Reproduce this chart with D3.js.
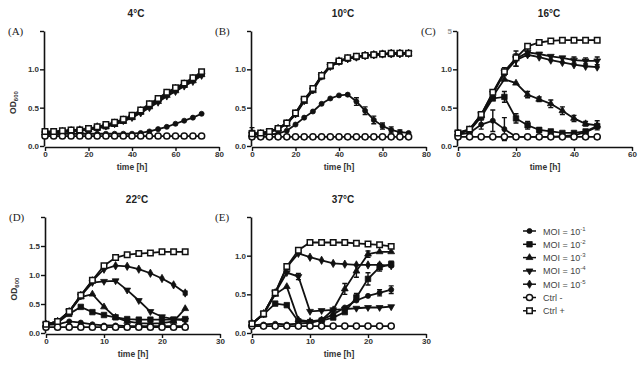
<!DOCTYPE html>
<html>
<head>
<meta charset="utf-8">
<script src="https://cdn.jsdelivr.net/npm/d3@7"></script>
<style>
  body { margin: 0; background: #fff; }
  svg { display: block; }
</style>
</head>
<body>
<svg width="640" height="371"></svg>
<script>
// series order: MOI 10^-1 .. 10^-5, Ctrl -, Ctrl +
const seriesNames = ["1", "2", "3", "4", "5", "Ctrl -", "Ctrl +"];
const seriesSymbols = ["circle", "square", "triangle", "triangleDown", "diamond", "circleOpen", "squareOpen"];

const times4 = [0, 4, 8, 12, 16, 20, 24, 28, 32, 36, 40, 44, 48, 52, 56, 60, 64, 68, 72];
const times16 = [0, 4, 8, 12, 16, 20, 24, 28, 32, 36, 40, 44, 48];
const times2 = [0, 2, 4, 6, 8, 10, 12, 14, 16, 18, 20, 22, 24];

const od4C = [
    [0.15, 0.15, 0.16, 0.16, 0.16, 0.16, 0.16, 0.16, 0.16, 0.16, 0.16, 0.17, 0.19, 0.22, 0.25, 0.29, 0.33, 0.37, 0.42],
    [0.18, 0.18, 0.19, 0.20, 0.21, 0.22, 0.24, 0.26, 0.29, 0.33, 0.38, 0.45, 0.53, 0.60, 0.68, 0.74, 0.80, 0.87, 0.95],
    [0.17, 0.17, 0.18, 0.19, 0.20, 0.21, 0.23, 0.25, 0.28, 0.32, 0.37, 0.44, 0.51, 0.58, 0.66, 0.72, 0.79, 0.85, 0.93],
    [0.16, 0.17, 0.18, 0.19, 0.20, 0.22, 0.24, 0.26, 0.29, 0.33, 0.37, 0.43, 0.50, 0.57, 0.65, 0.71, 0.78, 0.84, 0.92],
    [0.17, 0.18, 0.19, 0.20, 0.21, 0.22, 0.25, 0.27, 0.30, 0.34, 0.39, 0.46, 0.54, 0.61, 0.69, 0.75, 0.81, 0.88, 0.94],
    [0.13, 0.13, 0.13, 0.13, 0.13, 0.13, 0.13, 0.13, 0.13, 0.13, 0.13, 0.13, 0.13, 0.13, 0.13, 0.13, 0.13, 0.13, 0.13],
    [0.19, 0.19, 0.20, 0.21, 0.21, 0.23, 0.25, 0.28, 0.31, 0.35, 0.40, 0.47, 0.55, 0.62, 0.70, 0.76, 0.82, 0.89, 0.97]
];
const od10C = [
    [0.15, 0.15, 0.15, 0.16, 0.20, 0.28, 0.37, 0.45, 0.55, 0.62, 0.66, 0.67, 0.58, 0.46, 0.34, 0.26, 0.21, 0.18, 0.17],
    [0.17, 0.16, 0.19, 0.23, 0.30, 0.43, 0.60, 0.74, 0.91, 1.04, 1.10, 1.14, 1.16, 1.18, 1.19, 1.20, 1.20, 1.21, 1.21],
    [0.15, 0.16, 0.18, 0.22, 0.29, 0.41, 0.58, 0.72, 0.90, 1.03, 1.10, 1.14, 1.16, 1.18, 1.19, 1.20, 1.20, 1.20, 1.20],
    [0.15, 0.16, 0.19, 0.22, 0.30, 0.42, 0.59, 0.73, 0.91, 1.04, 1.10, 1.14, 1.16, 1.18, 1.19, 1.20, 1.20, 1.20, 1.21],
    [0.16, 0.16, 0.18, 0.23, 0.29, 0.42, 0.60, 0.74, 0.92, 1.04, 1.11, 1.14, 1.16, 1.18, 1.19, 1.20, 1.21, 1.21, 1.21],
    [0.12, 0.12, 0.12, 0.12, 0.12, 0.12, 0.12, 0.12, 0.12, 0.12, 0.12, 0.12, 0.12, 0.12, 0.12, 0.12, 0.12, 0.12, 0.12],
    [0.16, 0.17, 0.19, 0.23, 0.30, 0.43, 0.61, 0.75, 0.92, 1.05, 1.11, 1.15, 1.17, 1.18, 1.19, 1.20, 1.21, 1.21, 1.21]
];
const od16C = [
    [0.15, 0.17, 0.28, 0.33, 0.22, 0.12, 0.12, 0.12, 0.12, 0.13, 0.14, 0.18, 0.25],
    [0.17, 0.20, 0.38, 0.62, 0.64, 0.36, 0.27, 0.21, 0.19, 0.17, 0.17, 0.19, 0.26],
    [0.17, 0.21, 0.40, 0.65, 0.87, 0.82, 0.67, 0.61, 0.55, 0.46, 0.36, 0.29, 0.27],
    [0.17, 0.21, 0.41, 0.69, 0.96, 1.14, 1.22, 1.20, 1.17, 1.15, 1.12, 1.11, 1.11],
    [0.16, 0.21, 0.40, 0.68, 0.95, 1.12, 1.19, 1.16, 1.12, 1.09, 1.06, 1.04, 1.03],
    [0.12, 0.12, 0.12, 0.12, 0.12, 0.12, 0.12, 0.12, 0.12, 0.12, 0.12, 0.12, 0.12],
    [0.17, 0.22, 0.41, 0.70, 0.97, 1.15, 1.30, 1.35, 1.37, 1.38, 1.38, 1.38, 1.38]
];
const od22C = [
    [0.14, 0.15, 0.20, 0.18, 0.15, 0.13, 0.13, 0.12, 0.12, 0.12, 0.12, 0.12, 0.12],
    [0.15, 0.18, 0.33, 0.45, 0.36, 0.31, 0.27, 0.24, 0.23, 0.23, 0.23, 0.23, 0.24],
    [0.15, 0.18, 0.36, 0.62, 0.67, 0.45, 0.27, 0.20, 0.17, 0.16, 0.17, 0.20, 0.42],
    [0.15, 0.20, 0.37, 0.64, 0.87, 0.89, 0.90, 0.74, 0.56, 0.37, 0.28, 0.24, 0.22],
    [0.15, 0.20, 0.37, 0.65, 0.90, 1.10, 1.16, 1.15, 1.10, 1.03, 0.94, 0.83, 0.69],
    [0.10, 0.10, 0.10, 0.10, 0.10, 0.10, 0.10, 0.10, 0.10, 0.10, 0.10, 0.10, 0.10],
    [0.15, 0.20, 0.37, 0.65, 0.91, 1.16, 1.30, 1.35, 1.37, 1.38, 1.40, 1.40, 1.40]
];
const od37C = [
    [0.10, 0.11, 0.12, 0.11, 0.12, 0.13, 0.17, 0.24, 0.33, 0.42, 0.48, 0.52, 0.56],
    [0.12, 0.24, 0.38, 0.36, 0.15, 0.14, 0.16, 0.20, 0.27, 0.46, 0.70, 0.85, 0.89],
    [0.12, 0.24, 0.50, 0.60, 0.17, 0.15, 0.17, 0.30, 0.57, 0.80, 1.02, 1.05, 1.05],
    [0.12, 0.25, 0.52, 0.78, 0.73, 0.28, 0.29, 0.30, 0.31, 0.32, 0.33, 0.33, 0.34],
    [0.12, 0.25, 0.52, 0.85, 1.03, 0.98, 0.94, 0.90, 0.89, 0.88, 0.88, 0.88, 0.87],
    [0.09, 0.09, 0.09, 0.09, 0.09, 0.09, 0.09, 0.09, 0.09, 0.09, 0.09, 0.09, 0.09],
    [0.12, 0.25, 0.52, 0.86, 1.07, 1.17, 1.17, 1.17, 1.17, 1.16, 1.15, 1.14, 1.12]
];

// error bars: [series index, time, +/- sd]
const err10C = [[1, 0, 0.07], [0, 48, 0.05], [0, 52, 0.05], [0, 56, 0.05], [0, 60, 0.04], [0, 64, 0.04], [0, 68, 0.03]];
const err16C = [[0, 8, 0.06], [0, 12, 0.14], [0, 16, 0.15], [1, 16, 0.07], [1, 20, 0.06], [1, 24, 0.05], [1, 28, 0.03],
    [2, 24, 0.04], [2, 28, 0.03], [2, 32, 0.05], [2, 36, 0.05], [2, 40, 0.04], [2, 44, 0.03], [2, 48, 0.06],
    [3, 20, 0.1], [3, 24, 0.05], [3, 40, 0.04], [3, 44, 0.04], [3, 48, 0.05], [4, 20, 0.08], [6, 16, 0.05]];
const err22C = [[4, 24, 0.03]];
const err37C = [[3, 8, 0.04], [2, 16, 0.07], [2, 18, 0.08], [2, 20, 0.04], [1, 18, 0.05], [1, 20, 0.08],
    [1, 22, 0.05], [1, 24, 0.04], [0, 22, 0.04], [0, 24, 0.05]];

const panels = [
    { title: "4°C", letter: "(A)", times: times4, od: od4C, err: [], xMax: 80, xTicks: [0, 20, 40, 60, 80], yMax: 1.5, left: 45, top: 31, bottom: 146, ylabel: true },
    { title: "10°C", letter: "(B)", times: times4, od: od10C, err: err10C, xMax: 80, xTicks: [0, 20, 40, 60, 80], yMax: 1.5, left: 252, top: 31, bottom: 146 },
    { title: "16°C", letter: "(C)", times: times16, od: od16C, err: err16C, xMax: 60, xTicks: [0, 20, 40, 60], yMax: 1.5, left: 458, top: 31, bottom: 146 },
    { title: "22°C", letter: "(D)", times: times2, od: od22C, err: err22C, xMax: 30, xTicks: [0, 10, 20, 30], yMax: 2.0, left: 46, top: 217, bottom: 333, ylabel: true },
    { title: "37°C", letter: "(E)", times: times2, od: od37C, err: err37C, xMax: 30, xTicks: [0, 10, 20, 30], yMax: 1.5, left: 252, top: 217, bottom: 333 }
];

const axisWidth = 174;
const font = "Arial, 'Liberation Sans', sans-serif";
const svg = d3.select("svg");

function symbolPath(name, size) {
    const base = {
        circle: d3.symbolCircle, circleOpen: d3.symbolCircle,
        square: d3.symbolSquare, squareOpen: d3.symbolSquare,
        triangle: d3.symbolTriangle, triangleDown: d3.symbolTriangle,
        diamond: d3.symbolDiamond
    }[name];
    return d3.symbol().type(base).size(size)();
}

function drawMarker(g, name, x, y) {
    const small = name === "circle" || name === "triangle" || name === "triangleDown" || name === "diamond";
    const open = name.endsWith("Open");
    g.append("path")
        .attr("d", symbolPath(name, small ? 20 : 30))
        .attr("transform", `translate(${x},${y})` + (name === "triangleDown" ? " rotate(180)" : ""))
        .attr("fill", open ? "#fff" : "#111")
        .attr("stroke", "#111")
        .attr("stroke-width", open ? 1.5 : 0.8);
}

panels.forEach(p => {
    const x = d3.scaleLinear().domain([0, p.xMax]).range([p.left, p.left + axisWidth]);
    const y = d3.scaleLinear().domain([0, p.yMax]).range([p.bottom, p.top]);
    const g = svg.append("g");

    // axes
    const yTicks = d3.range(0, p.yMax + 0.01, 0.5);
    const yAxis = g.append("g")
        .attr("transform", `translate(${p.left - 1},0)`)
        .call(d3.axisLeft(y).tickValues(yTicks).tickSize(4).tickSizeOuter(0).tickFormat(d3.format(".1f")));
    const xAxis = g.append("g")
        .attr("transform", `translate(0,${p.bottom + 1})`)
        .call(d3.axisBottom(x).tickValues(p.xTicks).tickSize(4).tickSizeOuter(0).tickFormat(d3.format("d")));
    [yAxis, xAxis].forEach(a => {
        a.select(".domain").attr("stroke", "#111").attr("stroke-width", 1.6);
        a.selectAll(".tick line").attr("stroke", "#111").attr("stroke-width", 1.4);
        a.selectAll(".tick text").attr("fill", "#333").style("font", `bold 8px ${font}`);
    });
    yAxis.selectAll(".tick text").attr("x", -5);
    xAxis.selectAll(".tick text").attr("y", 4);
    // top tick label is cut off in the source figure
    yAxis.selectAll(".tick text").filter(d => d === p.yMax)
        .text(d => p.letter === "(C)" ? "5" : "").attr("fill", "#999");

    // lines
    const line = d3.line().x((d, i) => x(p.times[i])).y(d => y(d));
    p.od.forEach(vals => {
        g.append("path")
            .datum(vals)
            .attr("d", line)
            .attr("fill", "none")
            .attr("stroke", "#111")
            .attr("stroke-width", 1.8);
    });

    // error bars
    p.err.forEach(([s, t, e]) => {
        const v = p.od[s][p.times.indexOf(t)];
        const cx = x(t);
        g.append("path")
            .attr("d", `M${cx},${y(v - e)}V${y(v + e)}M${cx - 2.5},${y(v + e)}H${cx + 2.5}M${cx - 2.5},${y(v - e)}H${cx + 2.5}`)
            .attr("stroke", "#111")
            .attr("stroke-width", 1.4)
            .attr("fill", "none");
    });

    // markers
    p.od.forEach((vals, s) => {
        vals.forEach((v, i) => drawMarker(g, seriesSymbols[s], x(p.times[i]), y(v)));
    });

    // labels
    g.append("text")
        .attr("x", p.left + 91)
        .attr("y", p.top - 14)
        .attr("text-anchor", "middle")
        .style("font", `bold 10px ${font}`)
        .attr("fill", "#222")
        .text(p.title);

    g.append("text")
        .attr("x", p.left - 37)
        .attr("y", p.top + 4)
        .style("font", "11px 'Liberation Serif', 'DejaVu Serif', serif")
        .attr("fill", "#222")
        .text(p.letter);

    g.append("text")
        .attr("x", p.left + axisWidth / 2)
        .attr("y", p.bottom + 24)
        .attr("text-anchor", "middle")
        .style("font", `bold 8.5px ${font}`)
        .attr("fill", "#333")
        .text("time [h]");

    if (p.ylabel) {
        const yl = g.append("text")
            .attr("transform", `translate(${p.left - 29},${(p.top + p.bottom) / 2 + 14}) rotate(-90)`)
            .attr("text-anchor", "middle")
            .style("font", `bold 8.5px ${font}`)
            .attr("fill", "#333");
        yl.append("tspan").text("OD");
        yl.append("tspan").attr("dy", 2).style("font-size", "6px").text("600");
    }
});

// legend
const legend = svg.append("g").attr("transform", "translate(523,231)");
seriesNames.forEach((name, i) => {
    const row = legend.append("g").attr("transform", `translate(0,${i * 13.3})`);
    row.append("line")
        .attr("x1", 0).attr("x2", 13)
        .attr("stroke", "#111").attr("stroke-width", 1.5);
    drawMarker(row, seriesSymbols[i], 6.5, 0);
    const t = row.append("text")
        .attr("x", 20)
        .attr("y", 3.5)
        .style("font", `9px ${font}`)
        .attr("fill", "#444");
    if (i < 5) {
        t.append("tspan").text("MOI = 10");
        t.append("tspan").attr("dy", -4).style("font-size", "6px").text("-" + name);
    } else {
        t.text(name);
    }
});
</script>
</body>
</html>
